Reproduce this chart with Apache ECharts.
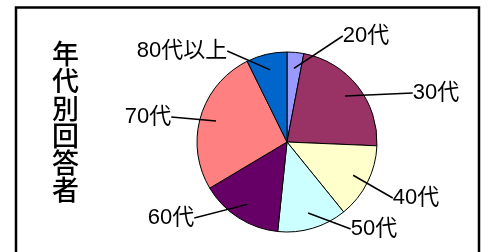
<!DOCTYPE html>
<html>
<head>
<meta charset="utf-8">
<script src="https://cdn.jsdelivr.net/npm/echarts@6/dist/echarts.min.js"></script>
<style>
  html, body { margin: 0; padding: 0; background: #fff; }
  #chart { width: 488px; height: 252px; }
</style>
</head>
<body>
<div id="chart"></div>
<script>
const categories = ['20代', '30代', '40代', '50代', '60代', '70代', '80代以上']
const shares = [3.0, 22.7, 13.5, 12.5, 14.8, 26.3, 7.3]
const title = '年代別回答者'

const colors = ['#9999FF', '#993366', '#FFFFCC', '#CCFFFF', '#660066', '#FF8080', '#0066CC']
// label centres (px), same order as categories
const labelPos = [[366, 36], [436, 93], [416, 198], [374, 229], [171, 218], [148, 117], [182, 51]]

const chart = echarts.init(document.getElementById('chart'))

const pieData = categories.map((name, i) => ({ name: name, value: shares[i] }))
const font = '"Liberation Sans", "Noto Sans CJK JP", sans-serif'

const option = {
    animation: false,
    color: colors,
    graphic: [
        {
            type: 'rect',
            shape: { x: 16, y: 7.5, width: 463, height: 270 },
            style: { fill: 'none', stroke: '#000', lineWidth: 2.5 },
            z: 10
        },
        {
            type: 'text',
            left: 52,
            top: 40,
            style: {
                text: title.split('').join('\n'),
                fontSize: 27,
                lineHeight: 27.3,
                fontWeight: 500,
                fill: '#000',
                fontFamily: '"Noto Sans CJK JP", sans-serif'
            }
        }
    ],
    series: [
        {
            type: 'pie',
            z: 2,
            center: [287, 142],
            radius: 90,
            startAngle: 90,
            clockwise: true,
            silent: true,
            label: { show: false },
            labelLine: { show: false },
            itemStyle: { borderColor: '#000', borderWidth: 1 },
            data: pieData
        },
        {
            // transparent overlay so leader lines start inside the slices
            type: 'pie',
            z: 5,
            center: [287, 142],
            radius: 74,
            startAngle: 90,
            clockwise: true,
            silent: true,
            avoidLabelOverlap: false,
            itemStyle: { color: 'rgba(0,0,0,0)', borderWidth: 0 },
            label: {
                show: true,
                position: 'outside',
                color: '#000',
                fontSize: 22,
                fontFamily: font
            },
            labelLine: {
                show: true,
                length: 5,
                length2: 0,
                lineStyle: { color: '#000', width: 1.5 }
            },
            labelLayout: function (params) {
                const p = labelPos[params.dataIndex]
                return { x: p[0], y: p[1], align: 'center', verticalAlign: 'middle' }
            },
            data: pieData
        }
    ]
}
chart.setOption(option)
</script>
</body>
</html>
